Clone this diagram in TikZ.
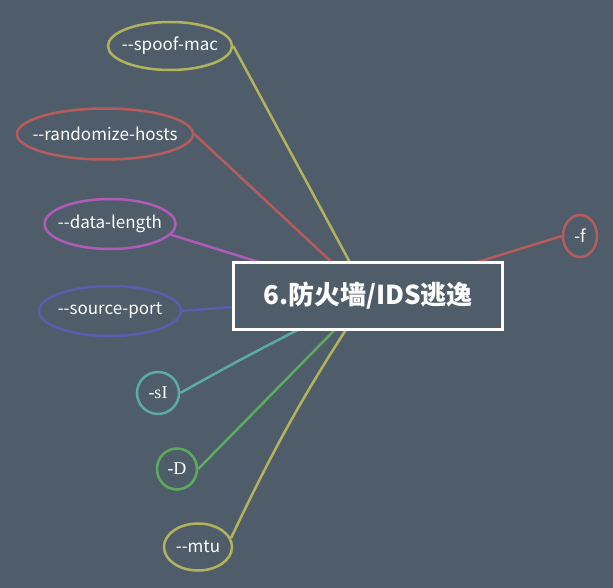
\documentclass[tikz,border=0pt]{standalone}
\usepackage{fontspec}
\setmainfont{Noto Sans CJK SC}
\newfontfamily\leafserif{Liberation Serif}
\usepackage{xcolor}
\usetikzlibrary{shapes.geometric}

\definecolor{bg}{HTML}{4F5D6A}
\definecolor{leafolive}{HTML}{B3B35C}
\definecolor{leafred}{HTML}{B65C5C}
\definecolor{leafpink}{HTML}{B05CB6}
\definecolor{leafblue}{HTML}{5C5CAE}
\definecolor{leafteal}{HTML}{5CAAA6}
\definecolor{leafgreen}{HTML}{5CAA5C}

\begin{document}
\begin{tikzpicture}[x=1pt,y=-1pt,
  leaf/.style={ellipse,draw,line width=2.5pt,inner xsep=-18pt,inner ysep=-5pt,text=white,
    font=\fontsize{17}{19}\selectfont},
  serifleaf/.style={leaf,font=\leafserif\fontsize{18}{20}\selectfont},
  link/.style={line width=2.5pt},
  hubbox/.style={draw=white,line width=3pt,fill=bg,text=white,
    minimum width=269,minimum height=67,font=\fontsize{26}{30}\selectfont\bfseries}]
\fill[bg] (0,0) rectangle (613,588);
\coordinate (hub) at (368,296);

% options on the left
\node[leaf,draw=leafolive,minimum width=124,minimum height=48] (spoof) at (170,46) {-{}-spoof-mac};
\node[leaf,draw=leafred,minimum width=176,minimum height=51] (rand) at (105,134) {-{}-randomize-hosts};
\node[leaf,draw=leafpink,minimum width=131,minimum height=50] (dlen) at (110,224) {-{}-data-length};
\node[leaf,draw=leafblue,minimum width=142,minimum height=50] (sport) at (110,311) {-{}-source-port};
\node[serifleaf,draw=leafteal,minimum width=42,minimum height=42] (idle) at (158,393) {-sI};
\node[serifleaf,draw=leafgreen,minimum width=40,minimum height=41] (decoy) at (177,469) {-D};
\node[leaf,draw=leafolive,minimum width=68,minimum height=47] (mtu) at (198,547) {-{}-mtu};
% option on the right
\node[leaf,draw=leafred,minimum width=34,minimum height=42] (frag) at (580,236) {-f};

\draw[link,leafolive] (spoof.east) -- (hub);
\draw[link,leafred] (rand.east) -- (hub);
\draw[link,leafpink] (dlen.-10) -- (hub);
\draw[link,leafblue] (sport.east) -- (hub);
\draw[link,leafteal] (idle.east) to[bend left=2] (hub);
\draw[link,leafgreen] (decoy.east) -- (hub);
\draw[link,leafolive] (mtu.15) to[bend left=4] (hub);
\draw[link,leafred] (frag.west) -- (hub);

\node[hubbox] (title) at (368,296) {6.防火墙/IDS逃逸};
\end{tikzpicture}
\end{document}
